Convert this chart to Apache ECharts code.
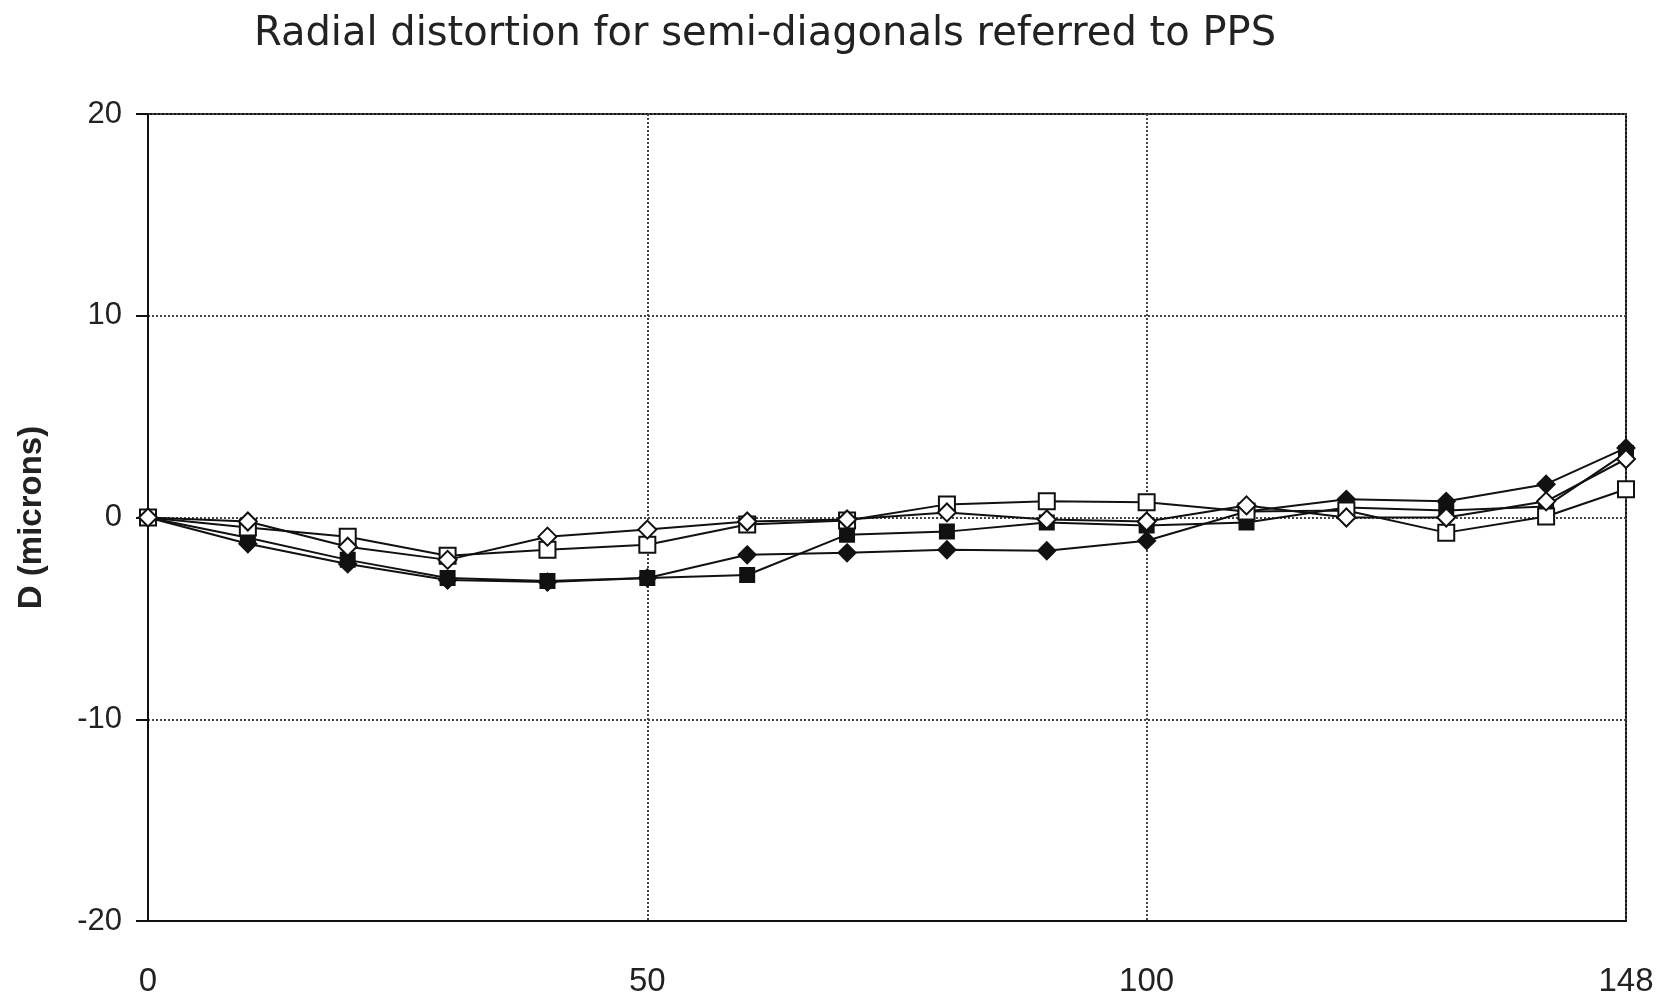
<!DOCTYPE html>
<html>
<head>
<meta charset="utf-8">
<script src="https://cdn.jsdelivr.net/npm/echarts@6/dist/echarts.min.js"></script>
<style>
html,body{margin:0;padding:0;background:#fff;}
#chart{width:1659px;height:998px;}
</style>
</head>
<body>
<div id="chart"></div>
<script>
var titleText = 'Radial distortion for semi-diagonals referred to PPS';
var yAxisName = 'D (microns)';
var xValues = [0, 10, 20, 30, 40, 50, 60, 70, 80, 90, 100, 110, 120, 130, 140, 148];
var xTickLabels = [0, 50, 100, 148];
var yTickLabels = [-20, -10, 0, 10, 20];
var filledDiamond = [0, -1.3, -2.3, -3.1, -3.2, -3.0, -1.85, -1.75, -1.6, -1.65, -1.15, 0.3, 0.9, 0.8, 1.65, 3.45];
var filledSquare  = [0, -1.0, -2.1, -3.0, -3.15, -3.0, -2.85, -0.85, -0.7, -0.25, -0.4, -0.25, 0.5, 0.35, 0.55, 3.2];
var openSquare    = [0, -0.5, -0.95, -1.9, -1.6, -1.35, -0.35, -0.15, 0.65, 0.8, 0.75, 0.3, 0.35, -0.75, 0.05, 1.4];
var openDiamond   = [0, -0.2, -1.45, -2.1, -0.95, -0.6, -0.2, -0.1, 0.25, -0.1, -0.2, 0.6, 0, 0, 0.8, 2.9];

function pairs(ys) {
  return xValues.map(function (x, i) { return [x, ys[i]]; });
}
function mkSeries(name, ys, symbol, filled, size) {
  return {
    name: name,
    type: 'line',
    data: pairs(ys),
    symbol: symbol,
    symbolSize: size,
    showAllSymbol: true,
    lineStyle: { color: '#111', width: 2 },
    itemStyle: { color: filled ? '#111' : '#fff', borderColor: '#111', borderWidth: 2 },
    z: filled ? 3 : 4,
    animation: false
  };
}

var chart = echarts.init(document.getElementById('chart'));
chart.setOption({
  animation: false,
  backgroundColor: '#fff',
  title: {
    text: titleText,
    left: 760,
    textAlign: 'center',
    top: 10,
    textStyle: { fontFamily: 'DejaVu Sans', fontSize: 40, fontWeight: 'normal', color: '#222' }
  },
  grid: {
    left: 148, right: 33, top: 114, bottom: 71,
    show: true, borderColor: '#111', borderWidth: 2, backgroundColor: 'transparent'
  },
  xAxis: {
    type: 'value',
    min: 0, max: 148, interval: 50,
    axisLine: { show: true, onZero: false, lineStyle: { color: '#111', width: 2 } },
    axisTick: { show: false },
    axisLabel: {
      customValues: xTickLabels,
      margin: 44,
      fontFamily: 'Liberation Sans', fontSize: 33, color: '#222'
    },
    splitLine: { show: true, lineStyle: { color: '#444', type: 'dotted', width: 2 } }
  },
  yAxis: {
    type: 'value',
    min: -20, max: 20, interval: 10,
    name: yAxisName,
    nameLocation: 'middle',
    nameGap: 100,
    nameRotate: 90,
    nameTextStyle: { fontFamily: 'Liberation Sans', fontWeight: 'bold', fontSize: 33, color: '#222' },
    axisLine: { show: true, lineStyle: { color: '#111', width: 2 } },
    axisTick: { show: true, length: 12, inside: false, lineStyle: { color: '#111', width: 2 } },
    axisLabel: {
      customValues: yTickLabels,
      margin: 26,
      fontFamily: 'Liberation Sans', fontSize: 31, color: '#222'
    },
    splitLine: { show: true, lineStyle: { color: '#444', type: 'dotted', width: 2 } }
  },
  series: [
    mkSeries('A', filledDiamond, 'diamond', true, 17),
    mkSeries('B', filledSquare, 'rect', true, 14),
    mkSeries('C', openSquare, 'rect', false, 16),
    mkSeries('D', openDiamond, 'diamond', false, 18)
  ]
});
</script>
</body>
</html>
